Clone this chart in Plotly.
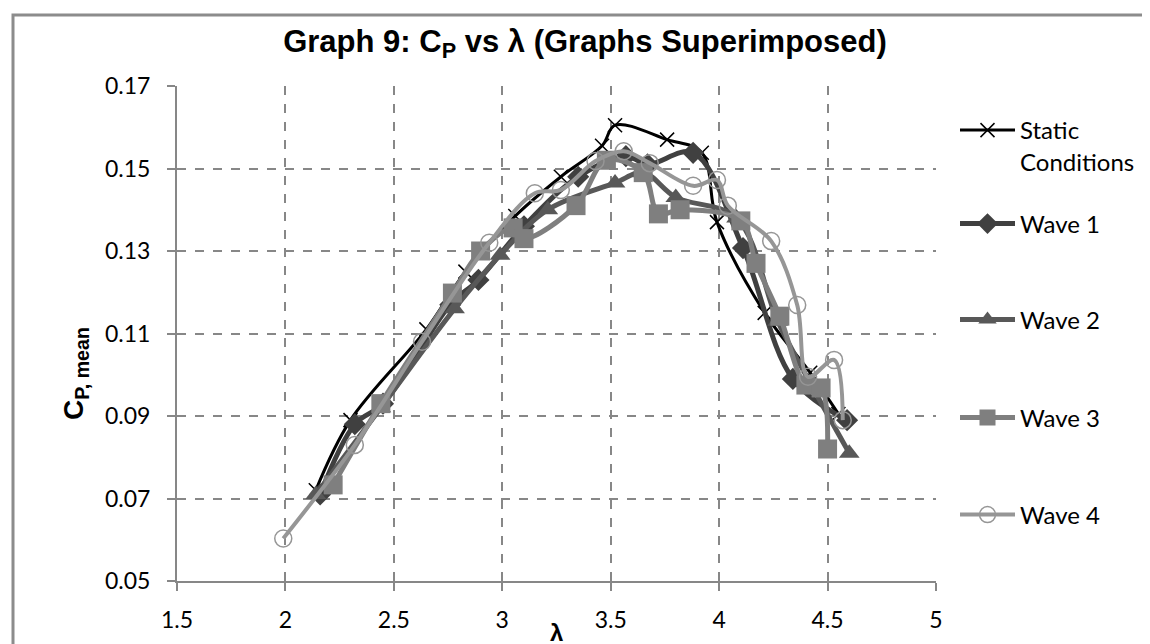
import plotly.graph_objects as go

# ---- data ----
static_x = [2.14, 2.30, 2.65, 2.83, 3.06, 3.27, 3.46, 3.52, 3.76, 3.92, 3.99, 4.21, 4.42, 4.55]
static_y = [0.072, 0.089, 0.111, 0.125, 0.1385, 0.148, 0.1555, 0.1605, 0.157, 0.1538, 0.137, 0.115, 0.1005, 0.0905]

wave1_x = [2.16, 2.32, 2.45, 2.76, 2.89, 3.10, 3.35, 3.57, 3.67, 3.88, 4.11, 4.34, 4.59]
wave1_y = [0.071, 0.088, 0.093, 0.117, 0.123, 0.136, 0.148, 0.153, 0.151, 0.1538, 0.1307, 0.099, 0.089]

wave2_x = [2.14, 2.44, 2.78, 2.99, 3.21, 3.52, 3.65, 3.80, 4.08, 4.27, 4.42, 4.60]
wave2_y = [0.071, 0.092, 0.116, 0.129, 0.140, 0.1465, 0.149, 0.143, 0.138, 0.113, 0.098, 0.081]

wave3_x = [2.22, 2.44, 2.77, 2.90, 3.05, 3.10, 3.34, 3.48, 3.65, 3.72, 3.82, 4.10, 4.17, 4.28, 4.40, 4.47, 4.50]
wave3_y = [0.0733, 0.093, 0.1198, 0.130, 0.1356, 0.133, 0.141, 0.152, 0.149, 0.139, 0.140, 0.1373, 0.127, 0.1142, 0.0975, 0.0968, 0.082]

wave4_x = [1.99, 2.32, 2.63, 2.94, 3.15, 3.27, 3.43, 3.56, 3.68, 3.88, 3.99, 4.04, 4.24, 4.36, 4.41, 4.53, 4.57]
wave4_y = [0.0603, 0.083, 0.108, 0.132, 0.144, 0.1448, 0.1518, 0.1542, 0.1513, 0.1458, 0.1472, 0.141, 0.1324, 0.1169, 0.0995, 0.1036, 0.089]

x_ticks = [1.5, 2, 2.5, 3, 3.5, 4, 4.5, 5]
y_ticks = [0.05, 0.07, 0.09, 0.11, 0.13, 0.15, 0.17]

FONT = "Lato"
W, H = 1150, 644
L, R, T, B = 169, 928, 78, 573          # plot-area edges in pixels
PW, PH = R - L, B - T

def px2paper_x(px):
    return (px - L) / PW

def px2paper_y(py):
    return (B - py) / PH

fig = go.Figure()

def add(name, xs, ys, color, width, symbol, size, legend, fill=None, mline=None):
    fig.add_trace(go.Scatter(
        x=xs, y=ys, name=name, mode="lines+markers", legend=legend,
        line=dict(color=color, width=width, shape="spline", smoothing=1.0),
        marker=dict(symbol=symbol, size=size, color=fill if fill else color,
                    line=dict(color=mline if mline else color, width=1.5 if mline else 0)),
    ))

add("Static<br>Conditions", static_x, static_y, "#000000", 3, "x-thin", 14, "legend", mline="#000000")
add("Wave 1", wave1_x, wave1_y, "#404040", 5, "diamond", 17, "legend2")
add("Wave 2", wave2_x, wave2_y, "#585858", 5, "triangle-up", 18, "legend3")
add("Wave 3", wave3_x, wave3_y, "#7f7f7f", 5, "square", 19, "legend4")
add("Wave 4", wave4_x, wave4_y, "#969696", 4, "circle-open", 17, "legend5", mline="#969696")

grid = dict(showgrid=True, gridcolor="#878787", gridwidth=1.5, griddash="dash")
axis_common = dict(ticks="outside", ticklen=8, tickcolor="#878787", tickwidth=2,
                   showline=True, linecolor="#878787", linewidth=2, zeroline=False,
                   tickfont=dict(family=FONT, size=23, color="#000"), **grid)
fig.update_xaxes(range=[1.5, 5], tickvals=x_ticks, ticktext=[f"{v:g}" for v in x_ticks],
                 ticklabelstandoff=9, **axis_common)
fig.update_yaxes(range=[0.05, 0.17], tickvals=y_ticks, ticktext=[f"{v:.2f}" for v in y_ticks],
                 ticklabelstandoff=12, **axis_common)

leg_x = px2paper_x(947)
leg_common = dict(x=leg_x, xanchor="left", font=dict(family=FONT, size=24, color="#000"),
                  bgcolor="rgba(0,0,0,0)", itemwidth=55, valign="top")

fig.update_layout(
    width=W, height=H,
    margin=dict(l=L, r=W - R, t=T, b=H - B),
    paper_bgcolor="white", plot_bgcolor="white",
    title=dict(text="<b>Graph 9: C<sub>P</sub> vs λ (Graphs Superimposed)</b>",
               x=577 / W, xanchor="center", y=1 - 33 / H, yanchor="middle",
               font=dict(family="Liberation Sans", size=31, color="#000")),
    legend=dict(y=px2paper_y(100), yanchor="top", **leg_common),
    legend2=dict(y=px2paper_y(216), yanchor="middle", **leg_common),
    legend3=dict(y=px2paper_y(312), yanchor="middle", **leg_common),
    legend4=dict(y=px2paper_y(410), yanchor="middle", **leg_common),
    legend5=dict(y=px2paper_y(507), yanchor="middle", **leg_common),
    showlegend=True,
)

# axis titles
fig.add_annotation(text="<b>λ</b>", xref="paper", yref="paper",
                   x=px2paper_x(548), y=px2paper_y(624), xanchor="center", yanchor="middle",
                   showarrow=False, font=dict(family="Liberation Sans", size=24, color="#000"))
fig.add_annotation(text="<b>C<sub>P, mean</sub></b>", xref="paper", yref="paper",
                   x=px2paper_x(67), y=px2paper_y(366), xanchor="center", yanchor="middle",
                   textangle=-90, showarrow=False,
                   font=dict(family="Liberation Sans", size=28, color="#000"))

# outer chart frame
fig.add_shape(type="rect", xref="paper", yref="paper",
              x0=px2paper_x(5), x1=px2paper_x(1147),
              y0=px2paper_y(642), y1=px2paper_y(7),
              line=dict(color="#8c8c8c", width=3), fillcolor="rgba(0,0,0,0)", layer="below")

fig.write_html("out.html")
